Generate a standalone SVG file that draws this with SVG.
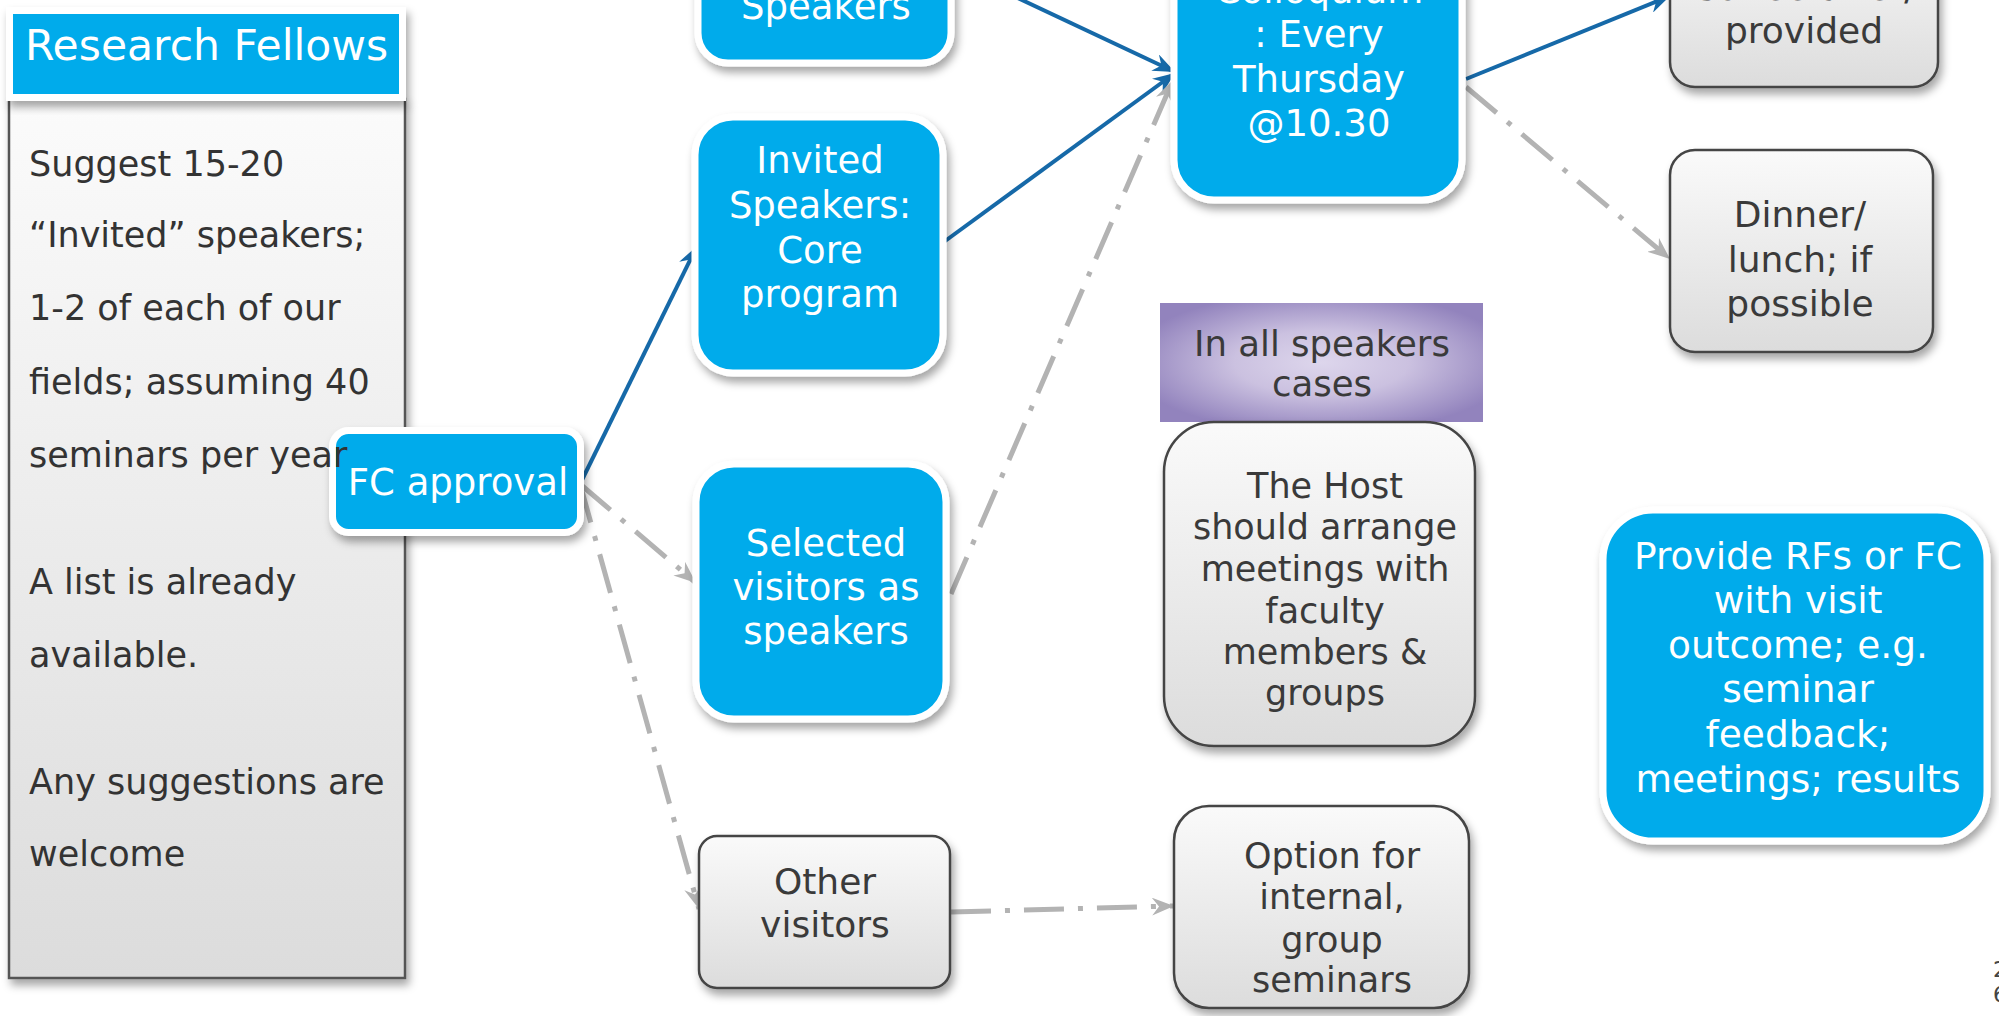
<svg xmlns="http://www.w3.org/2000/svg" width="1999" height="1016" viewBox="0 0 1999 1016">
<style>
text{font-family:"DejaVu Sans","Liberation Sans",sans-serif}
.bn{fill:#00abeb;stroke:#fff;stroke-width:7}
.gn{fill:url(#gg);stroke:#444;stroke-width:2.5}
.wt{fill:#fff;font-size:37px;text-anchor:middle}
.dt{fill:#3a3a3a;font-size:36px;text-anchor:middle}
.lt{fill:#333;font-size:35px}
.pv{font-size:37.5px}
.hs{font-size:35px}
.blue{stroke:#1669a8;stroke-width:4;fill:none;marker-end:url(#ab)}
.gray{stroke:#b3b3b3;stroke-width:5;fill:none;stroke-dasharray:40 14 5 14;marker-end:url(#ag)}
</style>
<defs>
<linearGradient id="gg" x1="0" y1="0" x2="0" y2="1"><stop offset="0" stop-color="#fafafa"/><stop offset="1" stop-color="#dcdcdc"/></linearGradient>
<linearGradient id="lg" x1="0" y1="0" x2="0" y2="1"><stop offset="0" stop-color="#fbfbfb"/><stop offset="1" stop-color="#dcdcdc"/></linearGradient>
<radialGradient id="pg" cx="0.5" cy="0.5" r="0.6"><stop offset="0" stop-color="#ddd6ec"/><stop offset="0.45" stop-color="#cbc1e0"/><stop offset="1" stop-color="#9283bd"/></radialGradient>
<filter id="sh" x="-20%" y="-20%" width="140%" height="140%"><feDropShadow dx="3" dy="6" stdDeviation="4" flood-color="#000" flood-opacity="0.35"/></filter>
<marker id="ab" markerUnits="userSpaceOnUse" markerWidth="24" markerHeight="18" refX="22" refY="9" orient="auto"><path d="M0,0 L22,9 L0,18 L7,9 z" fill="#1669a8"/></marker>
<marker id="ag" markerUnits="userSpaceOnUse" markerWidth="24" markerHeight="18" refX="22" refY="9" orient="auto"><path d="M0,0 L22,9 L0,18 L7,9 z" fill="#b3b3b3"/></marker>
</defs>
<rect width="1999" height="1016" fill="#fff"/>

<g id="research-fellows">
<rect x="9" y="99" width="396" height="879" fill="url(#lg)" stroke="#555" stroke-width="2.5" filter="url(#sh)"/>
<rect x="9.5" y="10.5" width="393" height="87" fill="#00abeb" stroke="#fff" stroke-width="7" filter="url(#sh)"/>
<text x="25" y="60" fill="#fff" font-size="42.5px">Research Fellows</text>
</g>

<g id="connectors">
<line class="blue" x1="954" y1="-32" x2="1175" y2="72"/>
<line class="blue" x1="941" y1="244" x2="1175" y2="73"/>
<line class="blue" x1="580" y1="484" x2="697" y2="246"/>
<line class="gray" x1="580" y1="484" x2="696" y2="583"/>
<line class="gray" x1="580" y1="484" x2="699" y2="909"/>
<line class="gray" x1="951" y1="594" x2="1173" y2="80"/>
<line class="blue" x1="1466" y1="79" x2="1670" y2="-4"/>
<line class="gray" x1="1466" y1="87" x2="1670" y2="259"/>
<line class="gray" x1="951" y1="912" x2="1174" y2="906"/>
</g>

<g id="fc-approval">
<rect class="bn" x="332.5" y="430.5" width="248" height="102" rx="16" filter="url(#sh)"/>
<text class="wt" x="458" y="495">FC approval</text>
</g>

<g id="research-fellows-text">
<text class="lt" x="29" y="176">Suggest 15-20</text>
<text class="lt" x="29" y="247">“Invited” speakers;</text>
<text class="lt" x="29" y="320">1-2 of each of our</text>
<text class="lt" x="29" y="394">fields; assuming 40</text>
<text class="lt" x="29" y="467">seminars per year</text>
<text class="lt" x="29" y="594">A list is already</text>
<text class="lt" x="29" y="667">available.</text>
<text class="lt" x="29" y="794">Any suggestions are</text>
<text class="lt" x="29" y="866">welcome</text>
</g>

<g id="speakers">
<rect class="bn" x="698" y="-60" width="253" height="123" rx="30" filter="url(#sh)"/>
<text class="wt" x="826" y="19">Speakers</text>
</g>

<g id="invited-speakers">
<rect class="bn" x="695" y="117" width="248" height="256" rx="38" filter="url(#sh)"/>
<text class="wt" x="820" y="173">Invited</text>
<text class="wt" x="820" y="218">Speakers:</text>
<text class="wt" x="820" y="263">Core</text>
<text class="wt" x="820" y="307">program</text>
</g>

<g id="selected-visitors">
<rect class="bn" x="696" y="464" width="250" height="255" rx="38" filter="url(#sh)"/>
<text class="wt" x="826" y="556">Selected</text>
<text class="wt" x="826" y="600">visitors as</text>
<text class="wt" x="826" y="644">speakers</text>
</g>

<g id="colloquium">
<rect class="bn" x="1174" y="-100" width="288" height="300" rx="40" filter="url(#sh)"/>
<text class="wt" x="1319" y="3">Colloquium</text>
<text class="wt" x="1319" y="47">: Every</text>
<text class="wt" x="1319" y="92">Thursday</text>
<text class="wt" x="1319" y="136">@10.30</text>
</g>

<g id="coffee">
<rect class="gn" x="1670" y="-80" width="268" height="167" rx="25" filter="url(#sh)"/>
<text class="dt" x="1804" y="0">Coffee after/</text>
<text class="dt" x="1804" y="43">provided</text>
</g>

<g id="dinner">
<rect class="gn" x="1670" y="150" width="263" height="202" rx="25" filter="url(#sh)"/>
<text class="dt" x="1800" y="227">Dinner/</text>
<text class="dt" x="1800" y="272">lunch; if</text>
<text class="dt" x="1800" y="316">possible</text>
</g>

<g id="all-speakers-cases">
<rect x="1160" y="303" width="323" height="119" fill="url(#pg)"/>
<text class="dt" x="1322" y="356" style="font-size:35.5px">In all speakers</text>
<text class="dt" x="1322" y="396" style="font-size:35.5px">cases</text>
</g>

<g id="host">
<rect class="gn" x="1164" y="422" width="311" height="324" rx="50" filter="url(#sh)"/>
<text class="dt hs" x="1325" y="498">The Host</text>
<text class="dt hs" x="1325" y="539">should arrange</text>
<text class="dt hs" x="1325" y="581">meetings with</text>
<text class="dt hs" x="1325" y="623">faculty</text>
<text class="dt hs" x="1325" y="664">members &amp;</text>
<text class="dt hs" x="1325" y="705">groups</text>
</g>

<g id="other-visitors">
<rect class="gn" x="699" y="836" width="251" height="152" rx="18" filter="url(#sh)"/>
<text class="dt" x="825" y="894">Other</text>
<text class="dt" x="825" y="937">visitors</text>
</g>

<g id="option">
<rect class="gn" x="1174" y="806" width="295" height="202" rx="35" filter="url(#sh)"/>
<text class="dt hs" x="1332" y="868">Option for</text>
<text class="dt hs" x="1332" y="909">internal,</text>
<text class="dt hs" x="1332" y="952">group</text>
<text class="dt hs" x="1332" y="992">seminars</text>
</g>

<g id="provide">
<rect class="bn" x="1603" y="510" width="384" height="331" rx="50" filter="url(#sh)"/>
<text class="wt pv" x="1798" y="569">Provide RFs or FC</text>
<text class="wt pv" x="1798" y="613">with visit</text>
<text class="wt pv" x="1798" y="658">outcome; e.g.</text>
<text class="wt pv" x="1798" y="702">seminar</text>
<text class="wt pv" x="1798" y="747">feedback;</text>
<text class="wt pv" x="1798" y="792">meetings; results</text>
</g>

<g id="page-number">
<text x="1993" y="977" fill="#444" font-size="22px">2</text>
<text x="1993" y="1002" fill="#444" font-size="22px">6</text>
</g>
</svg>
